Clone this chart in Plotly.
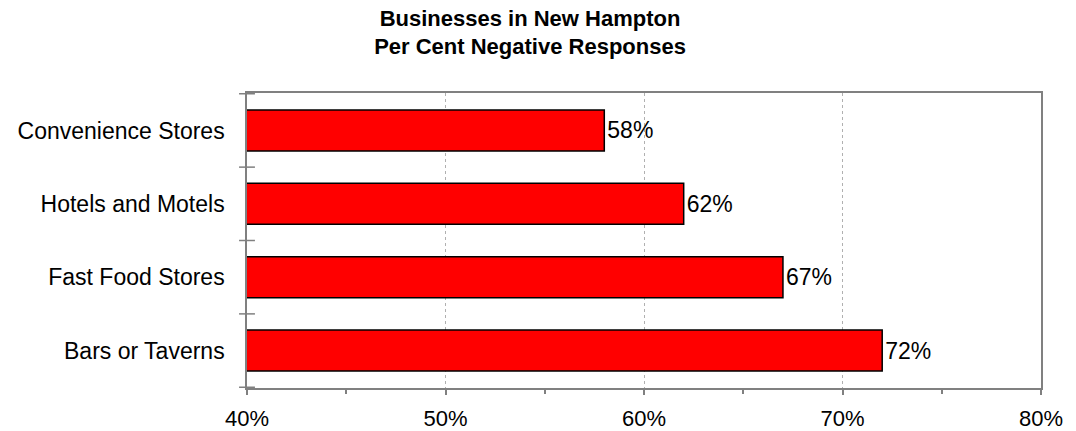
import plotly.graph_objects as go

categories = ["Convenience Stores", "Hotels and Motels", "Fast Food Stores", "Bars or Taverns"]
values = [58, 62, 67, 72]
x_ticks = [40, 50, 60, 70, 80]
x_tick_labels = ["40%", "50%", "60%", "70%", "80%"]

font_family = "Liberation Sans, Arial, sans-serif"

fig = go.Figure()
fig.add_trace(go.Bar(
    y=categories,
    x=values,
    orientation="h",
    marker=dict(color="#ff0000", line=dict(color="#000000", width=1.5)),
    width=0.56,
    text=[f"{v}%" for v in values],
    textposition="outside",
    textfont=dict(family=font_family, size=23, color="#000000"),
    cliponaxis=False,
    base=0,
))

# cross tick marks on the category axis at category boundaries
for i in range(len(categories) + 1):
    fig.add_shape(type="line", xref="paper", yref="y",
                  x0=-0.01, x1=0.01, y0=i - 0.5, y1=i - 0.5,
                  line=dict(color="#808080", width=1.5))

fig.update_layout(
    width=1076, height=431,
    margin=dict(l=247, r=35, t=93, b=43, autoexpand=False),
    paper_bgcolor="white", plot_bgcolor="white",
    showlegend=False,
    title=dict(
        text="<b>Businesses in New Hampton<br>Per Cent Negative Responses</b>",
        x=0.4926, xanchor="center", y=0.94, yanchor="top",
        font=dict(family=font_family, size=22, color="#000000"),
    ),
    font=dict(family=font_family, size=23, color="#000000"),
)
fig.update_xaxes(
    range=[40, 80], automargin=False,
    tickvals=x_ticks, ticktext=x_tick_labels,
    ticks="outside", ticklen=5, tickcolor="#808080", tickwidth=1.5,
    ticklabelstandoff=5,
    minor=dict(dtick=5, tick0=40, ticks="outside", ticklen=4, tickcolor="#808080", tickwidth=1.5, showgrid=False),
    showgrid=True, gridcolor="#b0b0b0", griddash="dot", gridwidth=1,
    showline=True, linecolor="#808080", linewidth=1.5, mirror=True,
    zeroline=False,
    tickfont=dict(family=font_family, size=22, color="#000000"),
)
fig.update_yaxes(
    categoryorder="array", categoryarray=categories[::-1], automargin=False,
    showline=True, linecolor="#808080", linewidth=1.5, mirror=True,
    ticks="", showgrid=False,
    ticklabelstandoff=16,
    tickfont=dict(family=font_family, size=23, color="#000000"),
)

fig.write_html("out.html", post_script="document.body.style.margin='0';",
               config={"displayModeBar": False})
